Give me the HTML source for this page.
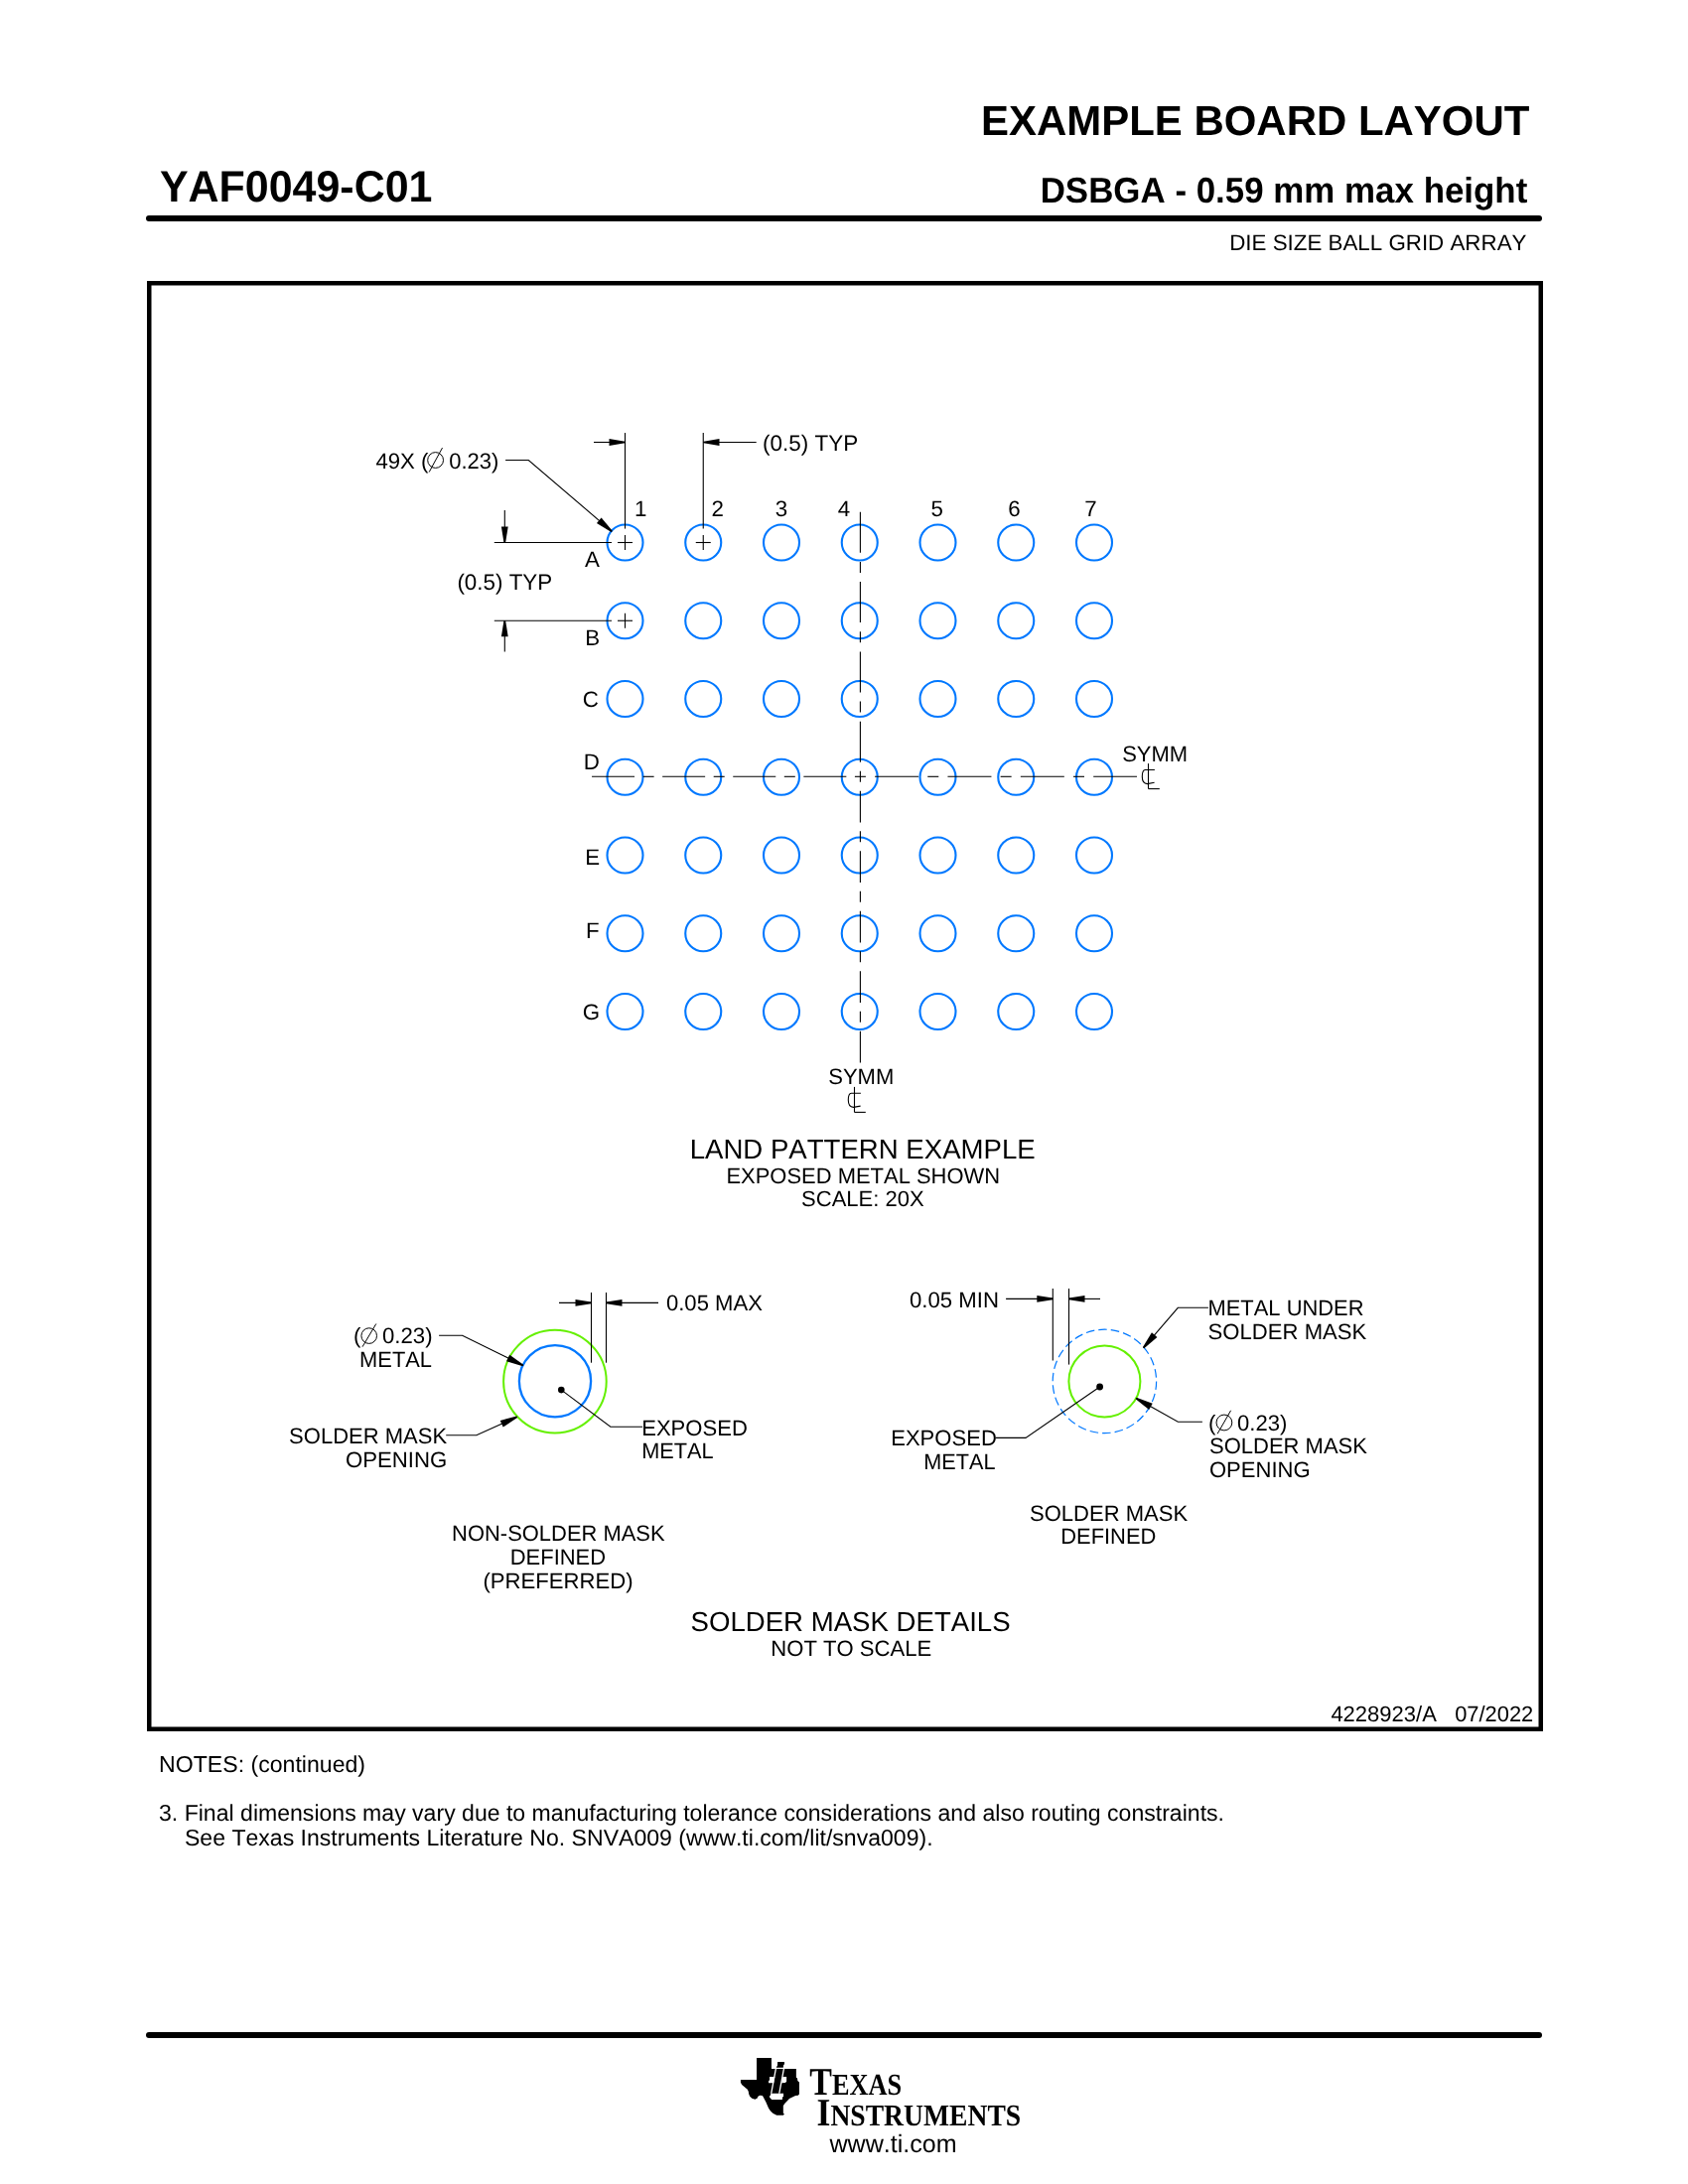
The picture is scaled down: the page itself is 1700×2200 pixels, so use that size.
<!DOCTYPE html>
<html><head><meta charset="utf-8"><style>
html,body{margin:0;padding:0;background:#fff;}
svg{will-change:transform;}
text{font-kerning:none;font-variant-ligatures:none;text-rendering:geometricPrecision;}
body{width:1700px;height:2200px;position:relative;overflow:hidden;font-family:"Liberation Sans",sans-serif;}
</style></head><body>
<svg width="1700" height="2200" viewBox="0 0 1700 2200" style="position:absolute;left:0;top:0" font-family="Liberation Sans, sans-serif">
<rect x="0" y="0" width="1700" height="2200" fill="#fff"/>
<text transform="translate(987.99 136.20) scale(0.9871 0.9900)" x="0" y="0" font-size="42.50" font-weight="bold" fill="#000">EXAMPLE BOARD LAYOUT</text>
<text transform="translate(160.97 203.20) scale(0.9870 1.0200)" x="0" y="0" font-size="43.50" font-weight="bold" fill="#000">YAF0049-C01</text>
<text transform="translate(1047.67 203.60) scale(0.9971 1.0300)" x="0" y="0" font-size="35.00" font-weight="bold" fill="#000">DSBGA - 0.59 mm max height</text>
<line x1="150.00" y1="220.00" x2="1550.00" y2="220.00" stroke="#000" stroke-width="6.00" stroke-linecap="round"/>
<text transform="translate(1238.17 252.00) scale(1.0022 1.0000)" x="0" y="0" font-size="22.30" font-weight="normal" fill="#000">DIE SIZE BALL GRID ARRAY</text>
<rect x="150.25" y="285.25" width="1401.5" height="1456.5" fill="none" stroke="#000" stroke-width="4.5"/>
<circle cx="629.50" cy="546.50" r="18.00" fill="none" stroke="#0078ff" stroke-width="2.10"/>
<circle cx="708.25" cy="546.50" r="18.00" fill="none" stroke="#0078ff" stroke-width="2.10"/>
<circle cx="787.00" cy="546.50" r="18.00" fill="none" stroke="#0078ff" stroke-width="2.10"/>
<circle cx="865.75" cy="546.50" r="18.00" fill="none" stroke="#0078ff" stroke-width="2.10"/>
<circle cx="944.50" cy="546.50" r="18.00" fill="none" stroke="#0078ff" stroke-width="2.10"/>
<circle cx="1023.25" cy="546.50" r="18.00" fill="none" stroke="#0078ff" stroke-width="2.10"/>
<circle cx="1102.00" cy="546.50" r="18.00" fill="none" stroke="#0078ff" stroke-width="2.10"/>
<circle cx="629.50" cy="625.25" r="18.00" fill="none" stroke="#0078ff" stroke-width="2.10"/>
<circle cx="708.25" cy="625.25" r="18.00" fill="none" stroke="#0078ff" stroke-width="2.10"/>
<circle cx="787.00" cy="625.25" r="18.00" fill="none" stroke="#0078ff" stroke-width="2.10"/>
<circle cx="865.75" cy="625.25" r="18.00" fill="none" stroke="#0078ff" stroke-width="2.10"/>
<circle cx="944.50" cy="625.25" r="18.00" fill="none" stroke="#0078ff" stroke-width="2.10"/>
<circle cx="1023.25" cy="625.25" r="18.00" fill="none" stroke="#0078ff" stroke-width="2.10"/>
<circle cx="1102.00" cy="625.25" r="18.00" fill="none" stroke="#0078ff" stroke-width="2.10"/>
<circle cx="629.50" cy="704.00" r="18.00" fill="none" stroke="#0078ff" stroke-width="2.10"/>
<circle cx="708.25" cy="704.00" r="18.00" fill="none" stroke="#0078ff" stroke-width="2.10"/>
<circle cx="787.00" cy="704.00" r="18.00" fill="none" stroke="#0078ff" stroke-width="2.10"/>
<circle cx="865.75" cy="704.00" r="18.00" fill="none" stroke="#0078ff" stroke-width="2.10"/>
<circle cx="944.50" cy="704.00" r="18.00" fill="none" stroke="#0078ff" stroke-width="2.10"/>
<circle cx="1023.25" cy="704.00" r="18.00" fill="none" stroke="#0078ff" stroke-width="2.10"/>
<circle cx="1102.00" cy="704.00" r="18.00" fill="none" stroke="#0078ff" stroke-width="2.10"/>
<circle cx="629.50" cy="782.75" r="18.00" fill="none" stroke="#0078ff" stroke-width="2.10"/>
<circle cx="708.25" cy="782.75" r="18.00" fill="none" stroke="#0078ff" stroke-width="2.10"/>
<circle cx="787.00" cy="782.75" r="18.00" fill="none" stroke="#0078ff" stroke-width="2.10"/>
<circle cx="865.75" cy="782.75" r="18.00" fill="none" stroke="#0078ff" stroke-width="2.10"/>
<circle cx="944.50" cy="782.75" r="18.00" fill="none" stroke="#0078ff" stroke-width="2.10"/>
<circle cx="1023.25" cy="782.75" r="18.00" fill="none" stroke="#0078ff" stroke-width="2.10"/>
<circle cx="1102.00" cy="782.75" r="18.00" fill="none" stroke="#0078ff" stroke-width="2.10"/>
<circle cx="629.50" cy="861.50" r="18.00" fill="none" stroke="#0078ff" stroke-width="2.10"/>
<circle cx="708.25" cy="861.50" r="18.00" fill="none" stroke="#0078ff" stroke-width="2.10"/>
<circle cx="787.00" cy="861.50" r="18.00" fill="none" stroke="#0078ff" stroke-width="2.10"/>
<circle cx="865.75" cy="861.50" r="18.00" fill="none" stroke="#0078ff" stroke-width="2.10"/>
<circle cx="944.50" cy="861.50" r="18.00" fill="none" stroke="#0078ff" stroke-width="2.10"/>
<circle cx="1023.25" cy="861.50" r="18.00" fill="none" stroke="#0078ff" stroke-width="2.10"/>
<circle cx="1102.00" cy="861.50" r="18.00" fill="none" stroke="#0078ff" stroke-width="2.10"/>
<circle cx="629.50" cy="940.25" r="18.00" fill="none" stroke="#0078ff" stroke-width="2.10"/>
<circle cx="708.25" cy="940.25" r="18.00" fill="none" stroke="#0078ff" stroke-width="2.10"/>
<circle cx="787.00" cy="940.25" r="18.00" fill="none" stroke="#0078ff" stroke-width="2.10"/>
<circle cx="865.75" cy="940.25" r="18.00" fill="none" stroke="#0078ff" stroke-width="2.10"/>
<circle cx="944.50" cy="940.25" r="18.00" fill="none" stroke="#0078ff" stroke-width="2.10"/>
<circle cx="1023.25" cy="940.25" r="18.00" fill="none" stroke="#0078ff" stroke-width="2.10"/>
<circle cx="1102.00" cy="940.25" r="18.00" fill="none" stroke="#0078ff" stroke-width="2.10"/>
<circle cx="629.50" cy="1019.00" r="18.00" fill="none" stroke="#0078ff" stroke-width="2.10"/>
<circle cx="708.25" cy="1019.00" r="18.00" fill="none" stroke="#0078ff" stroke-width="2.10"/>
<circle cx="787.00" cy="1019.00" r="18.00" fill="none" stroke="#0078ff" stroke-width="2.10"/>
<circle cx="865.75" cy="1019.00" r="18.00" fill="none" stroke="#0078ff" stroke-width="2.10"/>
<circle cx="944.50" cy="1019.00" r="18.00" fill="none" stroke="#0078ff" stroke-width="2.10"/>
<circle cx="1023.25" cy="1019.00" r="18.00" fill="none" stroke="#0078ff" stroke-width="2.10"/>
<circle cx="1102.00" cy="1019.00" r="18.00" fill="none" stroke="#0078ff" stroke-width="2.10"/>
<line x1="622.00" y1="546.50" x2="637.00" y2="546.50" stroke="#000" stroke-width="1.10" stroke-linecap="butt"/>
<line x1="629.50" y1="539.00" x2="629.50" y2="554.00" stroke="#000" stroke-width="1.10" stroke-linecap="butt"/>
<line x1="700.75" y1="546.50" x2="715.75" y2="546.50" stroke="#000" stroke-width="1.10" stroke-linecap="butt"/>
<line x1="708.25" y1="539.00" x2="708.25" y2="554.00" stroke="#000" stroke-width="1.10" stroke-linecap="butt"/>
<line x1="622.00" y1="625.25" x2="637.00" y2="625.25" stroke="#000" stroke-width="1.10" stroke-linecap="butt"/>
<line x1="629.50" y1="617.75" x2="629.50" y2="632.75" stroke="#000" stroke-width="1.10" stroke-linecap="butt"/>
<line x1="629.50" y1="436.00" x2="629.50" y2="532.60" stroke="#000" stroke-width="1.10" stroke-linecap="butt"/>
<line x1="708.25" y1="436.00" x2="708.25" y2="532.60" stroke="#000" stroke-width="1.10" stroke-linecap="butt"/>
<line x1="497.80" y1="546.50" x2="616.00" y2="546.50" stroke="#000" stroke-width="1.10" stroke-linecap="butt"/>
<line x1="497.80" y1="625.25" x2="616.00" y2="625.25" stroke="#000" stroke-width="1.10" stroke-linecap="butt"/>
<line x1="598.00" y1="445.50" x2="629.50" y2="445.50" stroke="#000" stroke-width="1.10" stroke-linecap="butt"/>
<polygon points="629.50,446.35 613.50,448.90 613.50,442.10 629.50,444.65" fill="#000"/>
<line x1="708.50" y1="445.50" x2="761.70" y2="445.50" stroke="#000" stroke-width="1.10" stroke-linecap="butt"/>
<polygon points="708.50,444.65 724.50,442.10 724.50,448.90 708.50,446.35" fill="#000"/>
<line x1="508.30" y1="514.00" x2="508.30" y2="546.50" stroke="#000" stroke-width="1.10" stroke-linecap="butt"/>
<polygon points="507.45,546.50 504.90,530.50 511.70,530.50 509.15,546.50" fill="#000"/>
<line x1="508.30" y1="625.20" x2="508.30" y2="656.50" stroke="#000" stroke-width="1.10" stroke-linecap="butt"/>
<polygon points="509.15,625.20 511.70,641.20 504.90,641.20 507.45,625.20" fill="#000"/>
<polyline points="509.10,463.50 532.30,463.50 616.20,535.30" fill="none" stroke="#000" stroke-width="1.10" stroke-linejoin="miter"/>
<polygon points="615.65,535.95 600.94,526.98 605.62,521.51 616.75,534.65" fill="#000"/>
<text x="378.39" y="471.80" font-size="22.20" font-weight="normal" fill="#000">49X (</text>
<circle cx="438.60" cy="463.50" r="7.90" fill="none" stroke="#000" stroke-width="1.00"/>
<line x1="445.50" y1="451.10" x2="432.20" y2="475.50" stroke="#000" stroke-width="1.00" stroke-linecap="butt"/>
<text transform="translate(452.24 471.80) scale(0.9926 1.0000)" x="0" y="0" font-size="22.20" font-weight="normal" fill="#000">0.23)</text>
<text transform="translate(768.01 453.60) scale(1.0035 1.0000)" x="0" y="0" font-size="22.40" font-weight="normal" fill="#000">(0.5) TYP</text>
<text x="460.41" y="593.60" font-size="22.40" font-weight="normal" fill="#000">(0.5) TYP</text>
<text x="638.90" y="520.00" font-size="22.30" font-weight="normal" fill="#000">1</text>
<text x="716.48" y="520.00" font-size="22.30" font-weight="normal" fill="#000">2</text>
<text x="780.75" y="520.00" font-size="22.30" font-weight="normal" fill="#000">3</text>
<text x="843.69" y="520.00" font-size="22.30" font-weight="normal" fill="#000">4</text>
<text x="937.51" y="520.00" font-size="22.30" font-weight="normal" fill="#000">5</text>
<text x="1015.17" y="520.00" font-size="22.30" font-weight="normal" fill="#000">6</text>
<text x="1092.16" y="520.00" font-size="22.30" font-weight="normal" fill="#000">7</text>
<text x="588.96" y="570.70" font-size="22.30" font-weight="normal" fill="#000">A</text>
<text x="589.17" y="649.70" font-size="22.30" font-weight="normal" fill="#000">B</text>
<text x="586.87" y="711.90" font-size="22.30" font-weight="normal" fill="#000">C</text>
<text x="587.87" y="774.90" font-size="22.30" font-weight="normal" fill="#000">D</text>
<text x="589.17" y="870.90" font-size="22.30" font-weight="normal" fill="#000">E</text>
<text x="590.07" y="944.60" font-size="22.30" font-weight="normal" fill="#000">F</text>
<text x="586.68" y="1026.60" font-size="22.30" font-weight="normal" fill="#000">G</text>
<line x1="860.90" y1="782.30" x2="871.90" y2="782.30" stroke="#000" stroke-width="1.10" stroke-linecap="butt"/>
<line x1="809.35" y1="782.30" x2="852.35" y2="782.30" stroke="#000" stroke-width="1.10" stroke-linecap="butt"/>
<line x1="789.80" y1="782.30" x2="800.80" y2="782.30" stroke="#000" stroke-width="1.10" stroke-linecap="butt"/>
<line x1="738.25" y1="782.30" x2="781.25" y2="782.30" stroke="#000" stroke-width="1.10" stroke-linecap="butt"/>
<line x1="718.70" y1="782.30" x2="729.70" y2="782.30" stroke="#000" stroke-width="1.10" stroke-linecap="butt"/>
<line x1="667.15" y1="782.30" x2="710.15" y2="782.30" stroke="#000" stroke-width="1.10" stroke-linecap="butt"/>
<line x1="647.60" y1="782.30" x2="658.60" y2="782.30" stroke="#000" stroke-width="1.10" stroke-linecap="butt"/>
<line x1="596.05" y1="782.30" x2="639.05" y2="782.30" stroke="#000" stroke-width="1.10" stroke-linecap="butt"/>
<line x1="881.09" y1="782.30" x2="925.09" y2="782.30" stroke="#000" stroke-width="1.10" stroke-linecap="butt"/>
<line x1="934.27" y1="782.30" x2="945.27" y2="782.30" stroke="#000" stroke-width="1.10" stroke-linecap="butt"/>
<line x1="954.45" y1="782.30" x2="998.45" y2="782.30" stroke="#000" stroke-width="1.10" stroke-linecap="butt"/>
<line x1="1007.64" y1="782.30" x2="1018.64" y2="782.30" stroke="#000" stroke-width="1.10" stroke-linecap="butt"/>
<line x1="1027.83" y1="782.30" x2="1071.83" y2="782.30" stroke="#000" stroke-width="1.10" stroke-linecap="butt"/>
<line x1="1081.01" y1="782.30" x2="1092.01" y2="782.30" stroke="#000" stroke-width="1.10" stroke-linecap="butt"/>
<line x1="1101.19" y1="782.30" x2="1145.00" y2="782.30" stroke="#000" stroke-width="1.10" stroke-linecap="butt"/>
<line x1="866.40" y1="776.80" x2="866.40" y2="787.80" stroke="#000" stroke-width="1.10" stroke-linecap="butt"/>
<line x1="866.40" y1="726.66" x2="866.40" y2="767.66" stroke="#000" stroke-width="1.10" stroke-linecap="butt"/>
<line x1="866.40" y1="706.53" x2="866.40" y2="717.53" stroke="#000" stroke-width="1.10" stroke-linecap="butt"/>
<line x1="866.40" y1="656.39" x2="866.40" y2="697.39" stroke="#000" stroke-width="1.10" stroke-linecap="butt"/>
<line x1="866.40" y1="636.26" x2="866.40" y2="647.26" stroke="#000" stroke-width="1.10" stroke-linecap="butt"/>
<line x1="866.40" y1="586.12" x2="866.40" y2="627.12" stroke="#000" stroke-width="1.10" stroke-linecap="butt"/>
<line x1="866.40" y1="565.99" x2="866.40" y2="576.99" stroke="#000" stroke-width="1.10" stroke-linecap="butt"/>
<line x1="866.40" y1="515.86" x2="866.40" y2="556.86" stroke="#000" stroke-width="1.10" stroke-linecap="butt"/>
<line x1="866.40" y1="796.65" x2="866.40" y2="828.45" stroke="#000" stroke-width="1.10" stroke-linecap="butt"/>
<line x1="866.40" y1="837.30" x2="866.40" y2="848.30" stroke="#000" stroke-width="1.10" stroke-linecap="butt"/>
<line x1="866.40" y1="857.15" x2="866.40" y2="888.95" stroke="#000" stroke-width="1.10" stroke-linecap="butt"/>
<line x1="866.40" y1="897.80" x2="866.40" y2="908.80" stroke="#000" stroke-width="1.10" stroke-linecap="butt"/>
<line x1="866.40" y1="917.65" x2="866.40" y2="949.45" stroke="#000" stroke-width="1.10" stroke-linecap="butt"/>
<line x1="866.40" y1="958.30" x2="866.40" y2="969.30" stroke="#000" stroke-width="1.10" stroke-linecap="butt"/>
<line x1="866.40" y1="978.15" x2="866.40" y2="1009.95" stroke="#000" stroke-width="1.10" stroke-linecap="butt"/>
<line x1="866.40" y1="1018.80" x2="866.40" y2="1029.80" stroke="#000" stroke-width="1.10" stroke-linecap="butt"/>
<line x1="866.40" y1="1038.65" x2="866.40" y2="1070.45" stroke="#000" stroke-width="1.10" stroke-linecap="butt"/>
<text transform="translate(1130.20 766.70) scale(0.9850 1.0000)" x="0" y="0" font-size="22.30" font-weight="normal" fill="#000">SYMM</text>
<line x1="1156.50" y1="769.10" x2="1156.50" y2="794.60" stroke="#000" stroke-width="1.10" stroke-linecap="butt"/>
<line x1="1156.50" y1="794.60" x2="1167.80" y2="794.60" stroke="#000" stroke-width="1.10" stroke-linecap="butt"/>
<path d="M1162.90 775.50 L1153.30 775.50 Q1150.30 775.70 1150.30 782.30 Q1150.30 789.60 1155.50 789.60 L1162.60 788.30" fill="none" stroke="#000" stroke-width="1.1"/>
<text transform="translate(834.20 1091.60) scale(0.9882 1.0000)" x="0" y="0" font-size="22.30" font-weight="normal" fill="#000">SYMM</text>
<line x1="860.50" y1="1094.90" x2="860.50" y2="1120.40" stroke="#000" stroke-width="1.10" stroke-linecap="butt"/>
<line x1="860.50" y1="1120.40" x2="871.80" y2="1120.40" stroke="#000" stroke-width="1.10" stroke-linecap="butt"/>
<path d="M866.90 1101.30 L857.30 1101.30 Q854.30 1101.50 854.30 1108.10 Q854.30 1115.40 859.50 1115.40 L866.60 1114.10" fill="none" stroke="#000" stroke-width="1.1"/>
<text x="694.64" y="1166.90" font-size="27.60" font-weight="normal" fill="#000">LAND PATTERN EXAMPLE</text>
<text transform="translate(731.40 1192.00) scale(0.9979 1.0000)" x="0" y="0" font-size="22.00" font-weight="normal" fill="#000">EXPOSED METAL SHOWN</text>
<text x="807.10" y="1214.60" font-size="22.00" font-weight="normal" fill="#000">SCALE: 20X</text>
<circle cx="558.90" cy="1391.60" r="51.80" fill="none" stroke="#64f000" stroke-width="2.00"/>
<circle cx="559.00" cy="1391.20" r="36.10" fill="none" stroke="#0078ff" stroke-width="2.30"/>
<circle cx="565.30" cy="1400.10" r="3.30" fill="#000" stroke="#000" stroke-width="0.00"/>
<polyline points="565.30,1400.10 614.80,1437.20 647.10,1437.20" fill="none" stroke="#000" stroke-width="1.10" stroke-linejoin="miter"/>
<line x1="595.50" y1="1302.00" x2="595.50" y2="1372.70" stroke="#000" stroke-width="1.10" stroke-linecap="butt"/>
<line x1="610.50" y1="1302.00" x2="610.50" y2="1372.70" stroke="#000" stroke-width="1.10" stroke-linecap="butt"/>
<line x1="563.00" y1="1312.40" x2="595.50" y2="1312.40" stroke="#000" stroke-width="1.10" stroke-linecap="butt"/>
<polygon points="595.50,1313.25 579.50,1315.80 579.50,1309.00 595.50,1311.55" fill="#000"/>
<line x1="610.50" y1="1312.40" x2="663.00" y2="1312.40" stroke="#000" stroke-width="1.10" stroke-linecap="butt"/>
<polygon points="610.50,1311.55 626.50,1309.00 626.50,1315.80 610.50,1313.25" fill="#000"/>
<polyline points="442.10,1345.30 465.60,1345.30 526.90,1375.40" fill="none" stroke="#000" stroke-width="1.10" stroke-linejoin="miter"/>
<polygon points="526.53,1376.16 510.05,1371.14 513.23,1364.68 527.27,1374.64" fill="#000"/>
<polyline points="449.20,1445.80 479.80,1445.80 520.70,1427.30" fill="none" stroke="#000" stroke-width="1.10" stroke-linejoin="miter"/>
<polygon points="521.05,1428.07 506.69,1437.59 503.73,1431.03 520.35,1426.53" fill="#000"/>
<text x="356.12" y="1353.00" font-size="22.20" font-weight="normal" fill="#000">(</text>
<circle cx="371.70" cy="1345.60" r="7.80" fill="none" stroke="#000" stroke-width="1.00"/>
<line x1="378.80" y1="1333.50" x2="365.00" y2="1356.70" stroke="#000" stroke-width="1.00" stroke-linecap="butt"/>
<text x="385.03" y="1353.00" font-size="22.20" font-weight="normal" fill="#000">0.23)</text>
<text transform="translate(362.11 1377.20) scale(0.9852 1.0000)" x="0" y="0" font-size="22.20" font-weight="normal" fill="#000">METAL</text>
<text transform="translate(291.10 1454.00) scale(0.9917 1.0000)" x="0" y="0" font-size="22.20" font-weight="normal" fill="#000">SOLDER MASK</text>
<text x="347.95" y="1477.80" font-size="22.20" font-weight="normal" fill="#000">OPENING</text>
<text transform="translate(670.94 1320.00) scale(0.9953 1.0000)" x="0" y="0" font-size="22.20" font-weight="normal" fill="#000">0.05 MAX</text>
<text transform="translate(646.19 1445.70) scale(0.9938 1.0000)" x="0" y="0" font-size="22.20" font-weight="normal" fill="#000">EXPOSED</text>
<text transform="translate(646.22 1468.80) scale(0.9796 1.0000)" x="0" y="0" font-size="22.20" font-weight="normal" fill="#000">METAL</text>
<text transform="translate(455.10 1551.90) scale(0.9887 1.0000)" x="0" y="0" font-size="22.20" font-weight="normal" fill="#000">NON-SOLDER MASK</text>
<text transform="translate(513.70 1575.90) scale(0.9899 1.0000)" x="0" y="0" font-size="22.20" font-weight="normal" fill="#000">DEFINED</text>
<text transform="translate(486.43 1599.60) scale(0.9976 1.0000)" x="0" y="0" font-size="22.20" font-weight="normal" fill="#000">(PREFERRED)</text>
<circle cx="1112.40" cy="1391.40" r="36.00" fill="none" stroke="#64f000" stroke-width="2.00"/>
<circle cx="1112.40" cy="1391.40" r="52.20" fill="none" stroke="#0078ff" stroke-width="1.20" stroke-dasharray="8.6 4"/>
<circle cx="1107.60" cy="1397.00" r="3.40" fill="#000" stroke="#000" stroke-width="0.00"/>
<line x1="1060.30" y1="1298.00" x2="1060.30" y2="1370.50" stroke="#000" stroke-width="1.10" stroke-linecap="butt"/>
<line x1="1076.50" y1="1298.00" x2="1076.50" y2="1374.60" stroke="#000" stroke-width="1.10" stroke-linecap="butt"/>
<line x1="1013.10" y1="1308.40" x2="1060.30" y2="1308.40" stroke="#000" stroke-width="1.10" stroke-linecap="butt"/>
<polygon points="1060.30,1309.25 1044.30,1311.80 1044.30,1305.00 1060.30,1307.55" fill="#000"/>
<line x1="1076.50" y1="1308.40" x2="1108.00" y2="1308.40" stroke="#000" stroke-width="1.10" stroke-linecap="butt"/>
<polygon points="1076.50,1307.55 1092.50,1305.00 1092.50,1311.80 1076.50,1309.25" fill="#000"/>
<polyline points="1216.90,1317.30 1186.30,1317.30 1151.60,1357.60" fill="none" stroke="#000" stroke-width="1.10" stroke-linejoin="miter"/>
<polygon points="1150.96,1357.05 1159.96,1342.37 1165.42,1347.07 1152.24,1358.15" fill="#000"/>
<polyline points="1210.90,1432.20 1186.30,1432.20 1144.10,1408.60" fill="none" stroke="#000" stroke-width="1.10" stroke-linejoin="miter"/>
<polygon points="1144.51,1407.86 1160.69,1413.76 1157.18,1420.04 1143.69,1409.34" fill="#000"/>
<polyline points="1002.80,1448.40 1033.00,1448.40 1107.60,1397.00" fill="none" stroke="#000" stroke-width="1.10" stroke-linejoin="miter"/>
<text x="915.93" y="1316.90" font-size="22.20" font-weight="normal" fill="#000">0.05 MIN</text>
<text transform="translate(897.19 1455.80) scale(0.9938 1.0000)" x="0" y="0" font-size="22.20" font-weight="normal" fill="#000">EXPOSED</text>
<text transform="translate(930.22 1479.80) scale(0.9768 1.0000)" x="0" y="0" font-size="22.20" font-weight="normal" fill="#000">METAL</text>
<text transform="translate(1216.50 1324.80) scale(0.9874 1.0000)" x="0" y="0" font-size="22.20" font-weight="normal" fill="#000">METAL UNDER</text>
<text transform="translate(1216.60 1349.00) scale(0.9961 1.0000)" x="0" y="0" font-size="22.20" font-weight="normal" fill="#000">SOLDER MASK</text>
<text x="1216.92" y="1440.70" font-size="22.20" font-weight="normal" fill="#000">(</text>
<circle cx="1232.90" cy="1433.00" r="7.90" fill="none" stroke="#000" stroke-width="1.00"/>
<line x1="1239.60" y1="1420.80" x2="1226.10" y2="1444.30" stroke="#000" stroke-width="1.00" stroke-linecap="butt"/>
<text transform="translate(1246.04 1440.70) scale(0.9947 1.0000)" x="0" y="0" font-size="22.20" font-weight="normal" fill="#000">0.23)</text>
<text transform="translate(1218.00 1464.20) scale(0.9917 1.0000)" x="0" y="0" font-size="22.20" font-weight="normal" fill="#000">SOLDER MASK</text>
<text transform="translate(1217.95 1487.90) scale(0.9943 1.0000)" x="0" y="0" font-size="22.20" font-weight="normal" fill="#000">OPENING</text>
<text transform="translate(1037.00 1531.80) scale(0.9930 1.0000)" x="0" y="0" font-size="22.20" font-weight="normal" fill="#000">SOLDER MASK</text>
<text transform="translate(1068.20 1554.70) scale(0.9878 1.0000)" x="0" y="0" font-size="22.20" font-weight="normal" fill="#000">DEFINED</text>
<text x="695.55" y="1643.00" font-size="27.60" font-weight="normal" fill="#000">SOLDER MASK DETAILS</text>
<text transform="translate(776.29 1667.90) scale(0.9947 1.0000)" x="0" y="0" font-size="22.20" font-weight="normal" fill="#000">NOT TO SCALE</text>
<text x="1340.39" y="1733.80" font-size="22.00" font-weight="normal" fill="#000">4228923/A</text>
<text transform="translate(1465.14 1733.80) scale(0.9954 1.0000)" x="0" y="0" font-size="22.00" font-weight="normal" fill="#000">07/2022</text>
<text x="160.10" y="1784.70" font-size="23.10" font-weight="normal" fill="#000">NOTES: (continued)</text>
<text x="160.02" y="1834.00" font-size="23.07" font-weight="normal" fill="#000">3. Final dimensions may vary due to manufacturing tolerance considerations and also routing constraints.</text>
<text x="185.95" y="1859.20" font-size="23.07" font-weight="normal" fill="#000">See Texas Instruments Literature No. SNVA009 (www.ti.com/lit/snva009).</text>
<line x1="150.00" y1="2050.00" x2="1550.00" y2="2050.00" stroke="#000" stroke-width="6.00" stroke-linecap="round"/>
<text transform="translate(815.37 2109.90) scale(0.8626 1)" x="0" y="0" font-family="Liberation Serif, serif" font-weight="bold" fill="#000"><tspan font-size="39.40">T</tspan><tspan font-size="30.50">EXAS</tspan></text>
<text transform="translate(822.50 2140.80) scale(0.9053 1)" x="0" y="0" font-family="Liberation Serif, serif" font-weight="bold" fill="#000"><tspan font-size="39.40">I</tspan><tspan font-size="30.50">NSTRUMENTS</tspan></text>
<text x="835.44" y="2168.20" font-size="25.10" font-weight="normal" fill="#000">www.ti.com</text>
<polygon points="762.04,2073.06 776.97,2073.06 776.97,2083.96 801.85,2083.96 801.85,2092.73 803.03,2093.44 803.27,2096.04 804.93,2097.46 804.93,2109.55 803.74,2110.73 801.14,2110.97 794.98,2114.05 790.24,2119.03 788.82,2121.16 788.82,2128.74 790.00,2129.45 788.82,2130.64 782.18,2130.64 778.39,2128.74 776.02,2126.61 774.12,2123.77 771.28,2117.13 767.96,2110.97 765.12,2110.73 763.22,2111.92 762.75,2113.58 760.38,2114.76 757.30,2113.82 755.17,2111.68 754.22,2109.55 753.74,2106.71 752.80,2104.81 747.11,2100.07 745.92,2097.70 745.92,2095.09 762.04,2095.09" fill="#000"/>
<polygon points="783.13,2077.09 790.00,2077.09 790.00,2079.22 789.05,2080.17 788.82,2082.77 781.94,2082.77 781.94,2081.82 782.89,2081.35" fill="#000"/>
<polygon points="780.66,2083.96 781.99,2083.96 777.35,2108.84 776.02,2108.84" fill="#fff"/>
<polygon points="788.72,2083.96 790.05,2083.96 785.40,2108.84 784.08,2108.84" fill="#fff"/>
<polygon points="775.07,2092.01 780.38,2092.01 779.19,2098.18 774.03,2098.18 774.03,2096.04 775.07,2095.57" fill="#fff"/>
<polygon points="788.34,2092.01 792.13,2092.01 792.13,2096.75 790.95,2097.94 787.16,2098.18" fill="#fff"/>
<polygon points="776.21,2108.84 789.05,2108.84 789.05,2111.92 787.96,2112.39 787.87,2115.00 777.20,2115.00 775.07,2112.87 775.07,2111.21 776.02,2110.50" fill="#fff"/>
</svg>
</body></html>
